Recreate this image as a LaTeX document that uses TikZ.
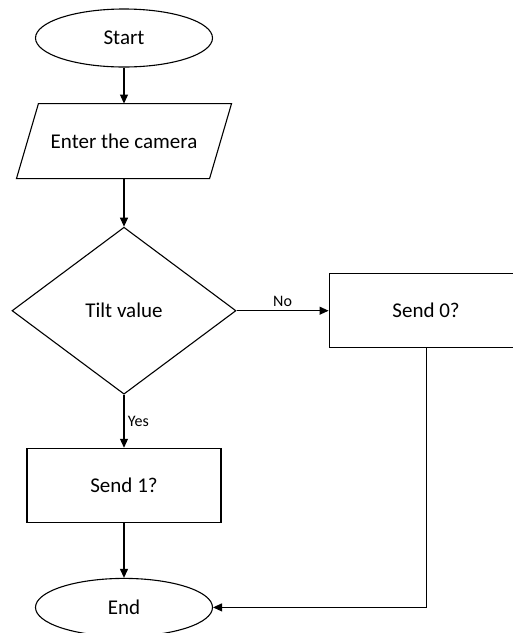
\documentclass[tikz,border=0pt]{standalone}
\usepackage{fontspec}
\setmainfont{Carlito}
\usetikzlibrary{shapes.geometric, positioning, arrows.meta, calc}

\begin{document}
\begin{tikzpicture}[x=1pt,y=-1pt,>={Triangle[length=9pt,width=8pt]},line width=1.1pt,
  term node/.style={ellipse,draw,inner sep=0pt,minimum width=177pt,minimum height=58pt,font=\fontsize{21}{25}\selectfont},
  io node/.style={rectangle,inner sep=0pt,minimum width=192pt,minimum height=74pt,font=\fontsize{21}{25}\selectfont},
  dec node/.style={diamond,draw,inner sep=0pt,minimum width=224pt,minimum height=167pt,font=\fontsize{21}{25}\selectfont},
  sq node/.style={rectangle,draw,inner sep=0pt,minimum width=194pt,minimum height=74pt,font=\fontsize{21}{25}\selectfont},
  lbl/.style={font=\fontsize{16}{19}\selectfont}]
  \useasboundingbox (0,0) rectangle (513,633);
  \clip (0,0) rectangle (513,633);
  \node[term node] (start) at (124,38) {Start};
  \node[io node, below=36pt of start] (enter) {Enter the camera};
  \draw ($(enter.north west)+(11,0)$) -- ($(enter.north east)+(11,0)$)
    -- ($(enter.south east)+(-11,0)$) -- ($(enter.south west)+(-11,0)$) -- cycle;
  \node[dec node, below=48pt of enter] (tilt) {Tilt value};
  \node[sq node, right=92pt of tilt] (send0) {Send 0?};
  \node[sq node, below=53pt of tilt] (send1) {Send 1?};
  \node[term node, below=55pt of send1] (end) {End};
  \draw[->] (start) -- (enter);
  \draw[->] (enter) -- (tilt);
  \draw[->] (tilt.east) -- node[above,lbl] {No} (send0.west);
  \draw[->] (tilt.south) -- node[right,lbl] {Yes} (send1.north);
  \draw[->] (send1) -- (end);
  \draw[->] (send0.south) |- (end.east);
\end{tikzpicture}
\end{document}
